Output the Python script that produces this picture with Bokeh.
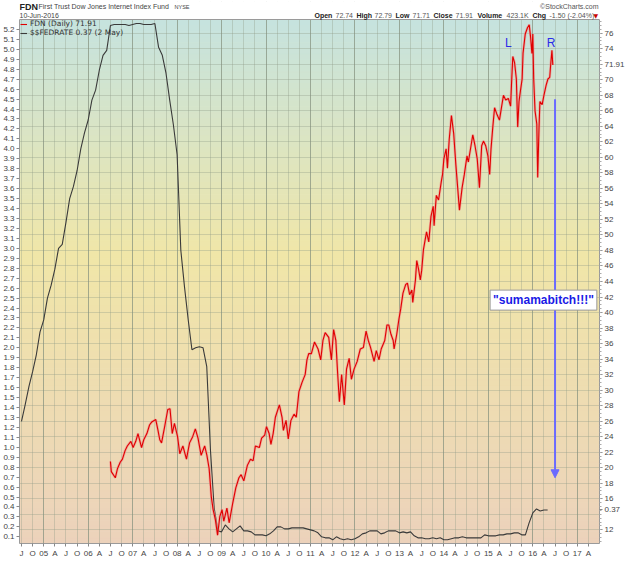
import numpy as np
from bokeh.plotting import figure
from bokeh.models import (Range1d, LinearAxis, FixedTicker, NumeralTickFormatter, Label,
                          Arrow, NormalHead, Legend, LegendItem, Grid, Span)
from bokeh.embed import file_html
from bokeh.resources import INLINE

# ---------------- data ----------------
fed_months = (
    ["2004-%02d" % m for m in range(7, 13)] +
    ["%d-%02d" % (y, m) for y in range(2005, 2016) for m in range(1, 13)] +
    ["2016-%02d" % m for m in range(1, 6)]
)
fed_rate = [
    1.26, 1.43, 1.61, 1.76, 1.93, 2.16,
    2.28, 2.50, 2.63, 2.79, 3.00, 3.04, 3.26, 3.50, 3.62, 3.78, 4.00, 4.16,
    4.29, 4.49, 4.59, 4.79, 4.94, 4.99, 5.24, 5.25, 5.25, 5.25, 5.25, 5.24,
    5.25, 5.26, 5.26, 5.25, 5.25, 5.25, 5.26, 5.02, 4.94, 4.76, 4.49, 4.24,
    3.94, 2.98, 2.61, 2.28, 1.98, 2.00, 2.01, 2.00, 1.81, 0.97, 0.39, 0.16,
    0.15, 0.22, 0.18, 0.15, 0.18, 0.21, 0.16, 0.16, 0.15, 0.12, 0.12, 0.12,
    0.11, 0.13, 0.16, 0.20, 0.20, 0.18, 0.18, 0.19, 0.19, 0.19, 0.19, 0.18,
    0.17, 0.16, 0.14, 0.10, 0.09, 0.09, 0.07, 0.10, 0.08, 0.07, 0.08, 0.07,
    0.08, 0.10, 0.13, 0.14, 0.16, 0.16, 0.16, 0.13, 0.14, 0.16, 0.16, 0.16,
    0.14, 0.15, 0.14, 0.15, 0.11, 0.09, 0.09, 0.08, 0.08, 0.09, 0.08, 0.09,
    0.07, 0.07, 0.08, 0.09, 0.09, 0.10, 0.09, 0.09, 0.09, 0.09, 0.09, 0.12,
    0.11, 0.11, 0.11, 0.12, 0.12, 0.13, 0.13, 0.14, 0.14, 0.12, 0.12, 0.24,
    0.34, 0.38, 0.36, 0.37, 0.37,
]

fdn_year = [
    2006.50, 2006.52, 2006.61, 2006.66, 2006.72, 2006.77, 2006.83, 2006.88, 2006.96,
    2007.01, 2007.07, 2007.12, 2007.20, 2007.25, 2007.32, 2007.38, 2007.43, 2007.52,
    2007.57, 2007.61, 2007.65, 2007.72, 2007.79, 2007.84, 2007.89, 2007.94,
    2008.01, 2008.06, 2008.13, 2008.21, 2008.28, 2008.35, 2008.41, 2008.47, 2008.54,
    2008.62, 2008.67, 2008.72, 2008.77, 2008.81, 2008.86, 2008.91, 2008.96,
    2009.01, 2009.05, 2009.12, 2009.17, 2009.25, 2009.32, 2009.39, 2009.44, 2009.50,
    2009.58, 2009.65, 2009.71, 2009.76, 2009.85, 2009.90, 2009.97,
    2010.01, 2010.07, 2010.11, 2010.16, 2010.21, 2010.30, 2010.36, 2010.39, 2010.45,
    2010.50, 2010.56, 2010.63, 2010.68, 2010.74, 2010.81, 2010.88, 2010.92, 2010.96,
    2011.02, 2011.09, 2011.17, 2011.23, 2011.28, 2011.33, 2011.41, 2011.47, 2011.52,
    2011.57, 2011.61, 2011.65, 2011.70, 2011.76, 2011.81, 2011.87, 2011.92, 2011.98,
    2012.05, 2012.12, 2012.19, 2012.25, 2012.30, 2012.35, 2012.43, 2012.48, 2012.54,
    2012.59, 2012.67, 2012.72, 2012.76, 2012.81, 2012.86, 2012.88, 2012.94, 2012.99,
    2013.03, 2013.08, 2013.14, 2013.18, 2013.23, 2013.28, 2013.30, 2013.36, 2013.39,
    2013.43, 2013.47, 2013.50, 2013.54, 2013.61, 2013.66, 2013.71, 2013.76, 2013.78,
    2013.83, 2013.88, 2013.94, 2013.97,
    2014.00, 2014.05, 2014.08, 2014.12, 2014.17, 2014.22, 2014.27, 2014.31, 2014.35,
    2014.41, 2014.46, 2014.52, 2014.55, 2014.61, 2014.65, 2014.70, 2014.75, 2014.80,
    2014.85, 2014.89, 2014.94, 2014.99,
    2015.03, 2015.06, 2015.10, 2015.14, 2015.19, 2015.25, 2015.30, 2015.34, 2015.39,
    2015.45, 2015.50, 2015.52, 2015.55, 2015.59, 2015.63, 2015.66, 2015.69, 2015.72,
    2015.76, 2015.78, 2015.83, 2015.88, 2015.92, 2015.95, 2015.98,
    2016.00, 2016.02, 2016.05, 2016.09, 2016.11, 2016.14, 2016.16, 2016.21, 2016.25,
    2016.30, 2016.34, 2016.38, 2016.40, 2016.43, 2016.45,
]
fdn_close = [
    20.8, 19.5, 18.7, 19.9, 20.7, 21.1, 22.2, 22.8, 23.4,
    22.6, 23.4, 24.4, 22.6, 23.6, 24.4, 25.5, 25.9, 26.2,
    24.8, 23.6, 23.2, 25.3, 27.5, 27.6, 24.4, 25.7,
    24.0, 21.8, 22.8, 21.1, 23.2, 24.0, 25.0, 23.8, 21.6,
    22.8, 21.6, 19.9, 16.2, 14.6, 13.3, 11.3, 13.7,
    14.6, 13.1, 14.8, 12.9, 15.4, 17.4, 18.7, 19.1, 18.3,
    20.3, 21.1, 20.9, 22.8, 22.6, 23.8, 24.2,
    25.3, 24.4, 23.0, 24.4, 26.5, 28.1, 26.5, 24.8, 26.1,
    23.7, 26.1, 26.9, 26.5, 29.8, 31.0, 32.0, 33.9, 34.7,
    34.7, 36.2, 35.3, 33.9, 36.4, 37.4, 36.8, 33.9, 37.8,
    36.4, 32.2, 28.5, 32.0, 28.1, 32.7, 34.1, 31.4, 32.7,
    33.7, 35.3, 35.5, 37.6, 36.4, 35.5, 33.7, 35.1, 33.9,
    35.3, 36.4, 38.4, 38.4, 37.2, 36.4, 35.3, 37.2, 39.2,
    40.5, 42.5, 43.6, 43.8, 42.3, 42.9, 41.3, 44.2, 46.7,
    45.6, 44.2, 45.4, 48.1, 50.4, 49.1, 52.4, 53.7, 51.2,
    55.1, 54.5, 56.8, 57.8,
    59.8, 61.1, 58.6, 62.3, 65.4, 63.1, 59.0, 56.1, 53.2,
    56.1, 57.8, 60.2, 59.4, 61.5, 62.9, 61.5, 59.8, 56.1,
    61.5, 62.1, 61.5, 60.2,
    57.8, 61.1, 63.9, 66.4, 65.6, 64.8, 66.6, 68.0, 67.4,
    67.6, 66.6, 69.3, 73.0, 72.2, 70.1, 63.9, 67.2, 68.5,
    70.1, 73.4, 75.9, 76.7, 77.1, 75.5, 73.4,
    75.9, 70.1, 66.0, 64.3, 57.4, 63.9, 67.2, 66.8, 68.0,
    69.3, 70.1, 70.3, 71.8, 73.8, 71.91,
]
fdn_last = 71.91
fed_last = 0.37

left_ticks = [round(0.1 * i, 1) for i in range(1, 53)]
grid_ticks = list(range(12, 77, 2))
quarter_letters = ["", "A", "J", "O"]
x_ticks = [2004.5 + 0.25 * i for i in range(0, 52)]
x_labels = {t: ("%02d" % (int(t) % 100) if t == int(t) else quarter_letters[int(round((t - int(t)) * 4))])
            for t in x_ticks}
year_ticks = [float(y) for y in range(2005, 2018)]

header_keys = ["Open", "High", "Low", "Close", "Volume", "Chg"]
header_vals = ["72.74", "72.79", "71.71", "71.91", "423.1K", "-1.50 (-2.04%)"]

# ---------------- figure ----------------
FW, CH, HH = 580, 524, 18          # frame width, chart height, header strip height
X0, X1 = 2004.455, 2017.50
Y0, Y1 = 0.033, 5.30
P0, P1 = 10.23, 77.77
Y1e = Y1 + HH * (Y1 - Y0) / CH     # frame top (header strip lives above the chart)
P1e = P1 + HH * (P1 - P0) / CH
font = "Liberation Sans"

p = figure(frame_width=FW, frame_height=CH + HH, x_range=Range1d(X0, X1), y_range=Range1d(Y0, Y1e),
           output_backend="svg", toolbar_location=None, title=None,
           min_border_top=1, min_border_left=14, min_border_right=24, min_border_bottom=0,
           border_fill_color="white", background_fill_color="white", outline_line_color=None)
p.extra_y_ranges = {"price": Range1d(P0, P1e)}

# background gradient (teal -> pale yellow -> peach)
stops = [(0.0, (197, 227, 223)), (0.45, (240, 230, 168)), (1.0, (236, 210, 187))]
n = 90
edges = np.linspace(Y1, Y0, n + 1)
cols = []
for i in range(n):
    f = (i + 0.5) / n
    for (f0, c0), (f1, c1) in zip(stops[:-1], stops[1:]):
        if f0 <= f <= f1:
            t = (f - f0) / (f1 - f0)
            c = tuple(int(round(a + (b - a) * t)) for a, b in zip(c0, c1))
            cols.append("#%02x%02x%02x" % c)
            break
bg = p.quad(left=[X0] * n, right=[X1] * n, top=list(edges[:-1]), bottom=list(edges[1:]),
            fill_color=cols, line_color=cols, line_width=1)
bg.level = "image"

# white mask over the header strip (hides grid lines there)
p.quad(left=[X0], right=[X1], bottom=[Y1], top=[Y1e], fill_color="white", line_color="white")

# right axis: even price ticks, with the last-value tags replacing the labels they cover
fed_tag_pos = P0 + (fed_last - Y0) / (Y1 - Y0) * (P1 - P0)
right_ticks = [t for t in grid_ticks if t not in (72, 14)] + [fdn_last, round(fed_tag_pos, 3)]
right_overrides = {fdn_last: "%.2f" % fdn_last, round(fed_tag_pos, 3): "%.2f" % fed_last}

xa = p.xaxis[0]
xa.ticker = FixedTicker(ticks=x_ticks)
xa.major_label_overrides = x_labels
ya = p.yaxis[0]
ya.ticker = FixedTicker(ticks=left_ticks)
ya.formatter = NumeralTickFormatter(format="0.0")
ya.bounds = (Y0, Y1)
ra = LinearAxis(y_range_name="price", bounds=(P0, P1),
                ticker=FixedTicker(ticks=sorted(right_ticks),
                                   minor_ticks=[10.5 + 0.5 * i for i in range(135)]))
ra.major_label_overrides = right_overrides
p.add_layout(ra, "right")
for ax in (xa, ya, ra):
    ax.major_label_text_font = font
    ax.major_label_text_font_size = "8px"
    ax.major_label_text_color = "#444444"
    ax.major_tick_out = 3
    ax.major_tick_in = 0
    ax.minor_tick_in = 0
    ax.minor_tick_out = 0
    ax.major_tick_line_color = "#888888"
    ax.axis_line_color = "#9a9a9a"
    ax.major_label_standoff = 2
ra.minor_tick_out = 2
ra.minor_tick_line_color = "#aaaaaa"
p.add_layout(Span(location=Y1, dimension="width", line_color="#9a9a9a", line_width=1))

# grids
p.xgrid.ticker = FixedTicker(ticks=x_ticks)
p.xgrid.grid_line_color = "#8f9a88"
p.xgrid.grid_line_alpha = 0.35
p.ygrid.ticker = FixedTicker(ticks=grid_ticks)
p.ygrid.y_range_name = "price"
p.ygrid.grid_line_color = "#8f9a88"
p.ygrid.grid_line_alpha = 0.35
yg = Grid(dimension=0, ticker=FixedTicker(ticks=year_ticks), grid_line_color="#7f8c7a",
          grid_line_alpha=0.55)
p.add_layout(yg)

# series
fed_x = [int(s[:4]) + (int(s[5:7]) - 1) / 12 for s in fed_months]
r_fed = p.line(fed_x, fed_rate, line_color="#3a3a3a", line_width=1.1)
p.line(fdn_year, fdn_close, y_range_name="price", line_color="#f08a8a", line_width=2.6, line_alpha=0.6)
r_fdn = p.line(fdn_year, fdn_close, y_range_name="price", line_color="#e00000", line_width=1.1)

legend = Legend(items=[LegendItem(label="FDN (Daily) %.2f" % fdn_last, renderers=[r_fdn]),
                       LegendItem(label="$$FEDRATE %.2f (2 May)" % fed_last, renderers=[r_fed])],
                location=(0, CH - 19), background_fill_alpha=0, border_line_alpha=0,
                label_text_font="DejaVu Sans", label_text_font_size="7.5px",
                label_text_color="#333333", glyph_width=7, glyph_height=8,
                label_height=8, spacing=0, padding=1, margin=0, label_standoff=3)
p.add_layout(legend)

# annotations
for t, ax_, ay_ in (("L", 2015.45, 74.8), ("R", 2016.41, 74.7)):
    p.add_layout(Label(x=ax_, y=ay_, y_range_name="price", text=t, text_font=font,
                       text_font_size="12px", text_color="#2a2ae8",
                       text_align="center", text_baseline="middle"))

arrow_x, arrow_y0, arrow_y1 = 2016.50, 67.5, 18.7
p.add_layout(Arrow(end=NormalHead(size=8, fill_color="#6a6aff", line_color="#6a6aff"),
                   x_start=arrow_x, y_start=arrow_y0, x_end=arrow_x, y_end=arrow_y1,
                   y_range_name="price", line_color="#6a6aff", line_width=2))

p.add_layout(Label(x=2016.24, y=41.6, y_range_name="price", text='"sumamabitch!!!"',
                   text_font=font, text_font_size="12px", text_font_style="bold",
                   text_color="#1a1ae6", text_align="center", text_baseline="middle",
                   background_fill_color="white", border_line_color="#9a9a9a", padding=3))


# header texts (screen units from the frame's bottom-left corner)
def lab(x, y, text, size="7px", bold=False, color="#333333", align="left", fnt=font):
    p.add_layout(Label(x=x, y=y, x_units="screen", y_units="screen", text=text,
                       text_font=fnt, text_font_size=size, text_color=color,
                       text_font_style="bold" if bold else "normal",
                       text_align=align, text_baseline="middle"))


lab(0, CH + 13, "FDN", size="9px", bold=True, color="#222222")
lab(19, CH + 13, "First Trust Dow Jones Internet Index Fund", size="7px", color="#444444")
lab(155, CH + 12.5, "NYSE", size="5.5px", color="#444444")
lab(0, CH + 4.5, "10-Jun-2016", size="7px", color="#444444")
lab(FW - 1, CH + 13, "\u00a9StockCharts.com", size="7px", color="#555555", align="right")
key_x = [337, 379, 418, 456, 500, 555]
val_x = [358, 397, 435, 478, 529, 572]
for k, v, kx, vx in zip(header_keys, header_vals, key_x, val_x):
    lab(FW - (622 - kx), CH + 4.5, k, size="7px", bold=True, color="#222222")
    lab(FW - (622 - vx), CH + 4.5, v, size="7px", color="#555555")
lab(FW - 6, CH + 4.5, "\u25bc", size="6px", color="#cc0000", fnt="DejaVu Sans")

open("out.html", "w").write(file_html(p, INLINE))
